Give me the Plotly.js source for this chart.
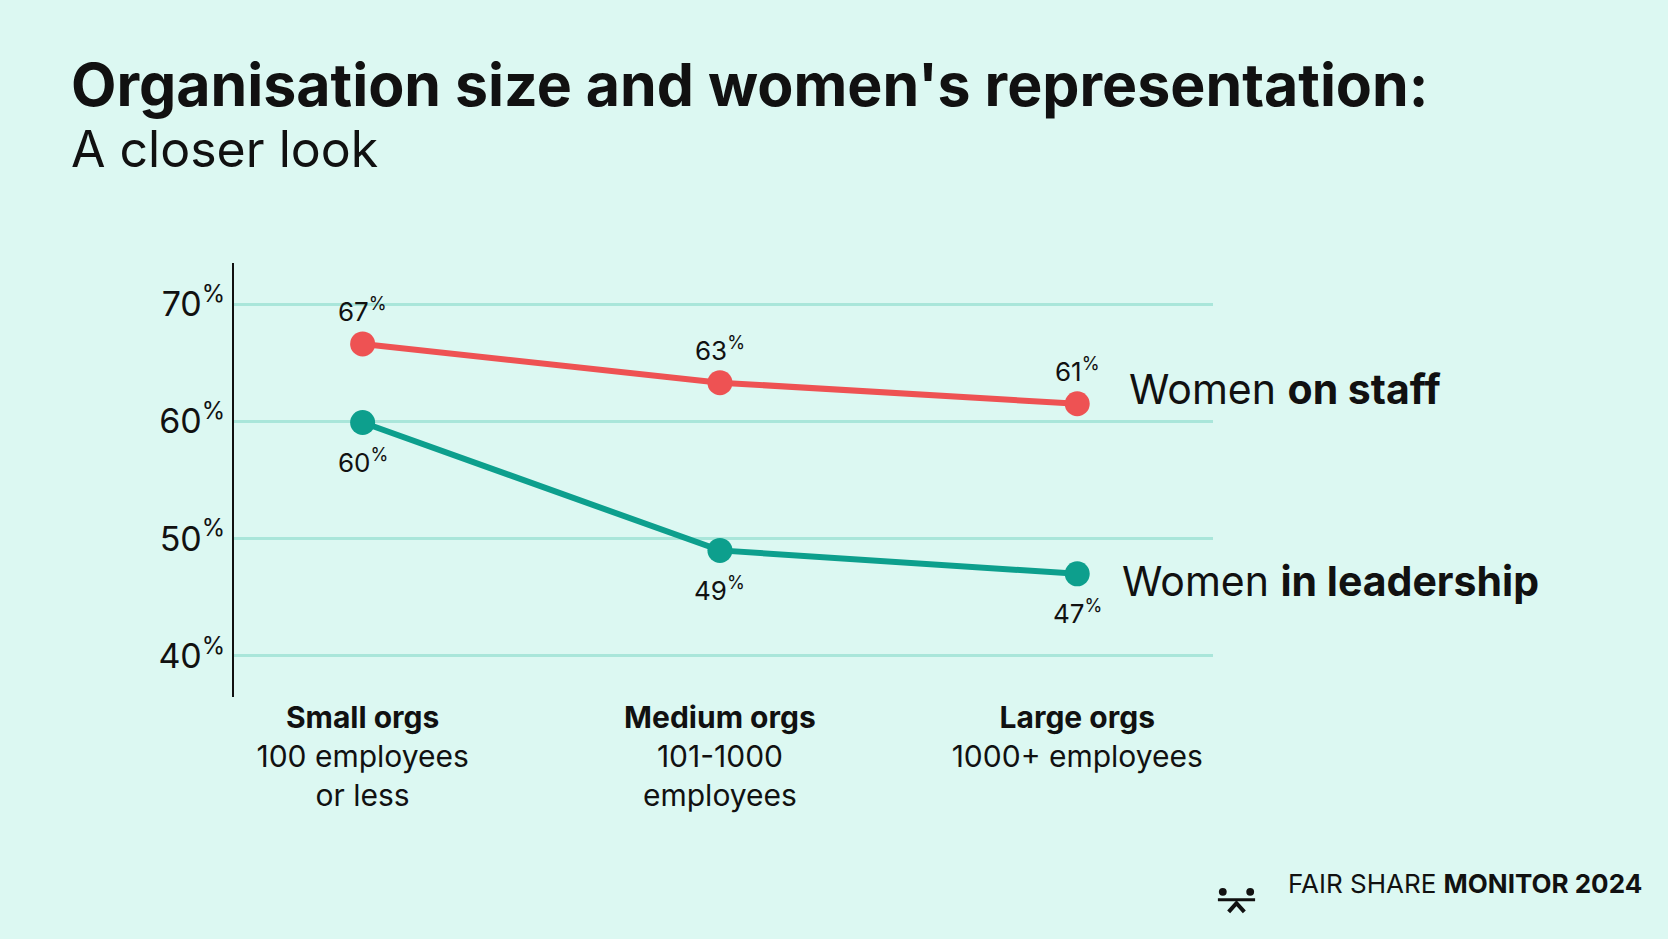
<!DOCTYPE html>
<html><head><meta charset="utf-8">
<script src="https://cdn.plot.ly/plotly-3.0.1.min.js"></script>
<style>html,body{margin:0;background:#dcf8f2}</style>
</head><body><div id="chart" style="width:1668px;height:939px"></div>
<script>
var categories = ['Small orgs', 'Medium orgs', 'Large orgs'];
var subLabels = ['100 employees<br>or less', '101-1000<br>employees', '1000+ employees'];
var staff = [66.6, 63.3, 61.5];
var leadership = [59.9, 49.0, 47.0];
var staffLabels = [67, 63, 61];
var leaderLabels = [60, 49, 47];
var yTicks = [40, 50, 60, 70];

var red = '#ee5253', teal = '#0d9f8d';
var xs = [0, 1, 2];
function pct(a){ return a.map(function(v){ return v + '<sup>%</sup>'; }); }

var data = [
  {x: xs, y: staff, type: 'scatter', mode: 'lines+markers', name: 'Women on staff',
   line: {color: red, width: 6}, marker: {color: red, size: 25}},
  {x: xs, y: leadership, type: 'scatter', mode: 'lines+markers', name: 'Women in leadership',
   line: {color: teal, width: 6}, marker: {color: teal, size: 25}}
];

var annotations = [
  {xref: 'paper', yref: 'paper', x: -0.169, y: 1.325, xanchor: 'left', yanchor: 'bottom', showarrow: false,
   text: "<b>Organisation size and women's representation:</b>", font: {size: 59}},
  {xref: 'paper', yref: 'paper', x: -0.169, y: 1.19, xanchor: 'left', yanchor: 'bottom', showarrow: false,
   text: 'A closer look', font: {size: 50}},
  {x: 2.14, y: staff[2] + 1.3, xanchor: 'left', showarrow: false,
   text: 'Women <b>on staff</b>', font: {size: 41}},
  {x: 2.12, y: leadership[2] - 0.6, xanchor: 'left', showarrow: false,
   text: 'Women <b>in leadership</b>', font: {size: 41}},
  {xref: 'paper', yref: 'paper', x: 1.44, y: -0.47, xanchor: 'right', showarrow: false,
   text: 'FAIR SHARE <b>MONITOR 2024</b>', font: {size: 26}}
];
xs.forEach(function(x, i){
  annotations.push({x: x, y: staff[i], yshift: 34, showarrow: false, text: pct(staffLabels)[i], font: {size: 26}});
  annotations.push({x: x, y: leadership[i], yshift: -38, showarrow: false, text: pct(leaderLabels)[i], font: {size: 26}});
});

var layout = {
  width: 1668, height: 939,
  paper_bgcolor: '#dcf8f2', plot_bgcolor: '#dcf8f2',
  font: {family: 'Inter, "Open Sans", sans-serif', color: '#111'},
  showlegend: false,
  margin: {l: 234, r: 455, t: 263, b: 242},
  xaxis: {range: [-0.36, 2.38], tickvals: xs, showgrid: false, zeroline: false,
    ticktext: categories.map(function(c, i){ return '<b>' + c + '</b><br>' + subLabels[i]; }),
    tickfont: {size: 30}, ticks: '', fixedrange: true},
  yaxis: {range: [36.5, 73.5], tickvals: yTicks, ticktext: pct(yTicks), tickfont: {size: 34},
    showgrid: true, gridcolor: '#a9e6da', gridwidth: 3, zeroline: false,
    showline: true, linecolor: '#111', linewidth: 2, ticks: '', ticklen: 0},
  annotations: annotations,
  shapes: [
    {type: 'circle', xref: 'paper', yref: 'paper', x0: 1.006, x1: 1.014, y0: -0.458, y1: -0.440, fillcolor: '#111', line: {width: 0}},
    {type: 'circle', xref: 'paper', yref: 'paper', x0: 1.034, x1: 1.042, y0: -0.458, y1: -0.440, fillcolor: '#111', line: {width: 0}},
    {type: 'line', xref: 'paper', yref: 'paper', x0: 1.005, x1: 1.043, y0: -0.467, y1: -0.467, line: {color: '#111', width: 3}},
    {type: 'path', xref: 'paper', yref: 'paper', path: 'M 1.016 -0.495 L 1.024 -0.475 L 1.032 -0.495', line: {color: '#111', width: 4}}
  ]
};
Plotly.newPlot('chart', data, layout, {displayModeBar: false});
</script></body></html>
